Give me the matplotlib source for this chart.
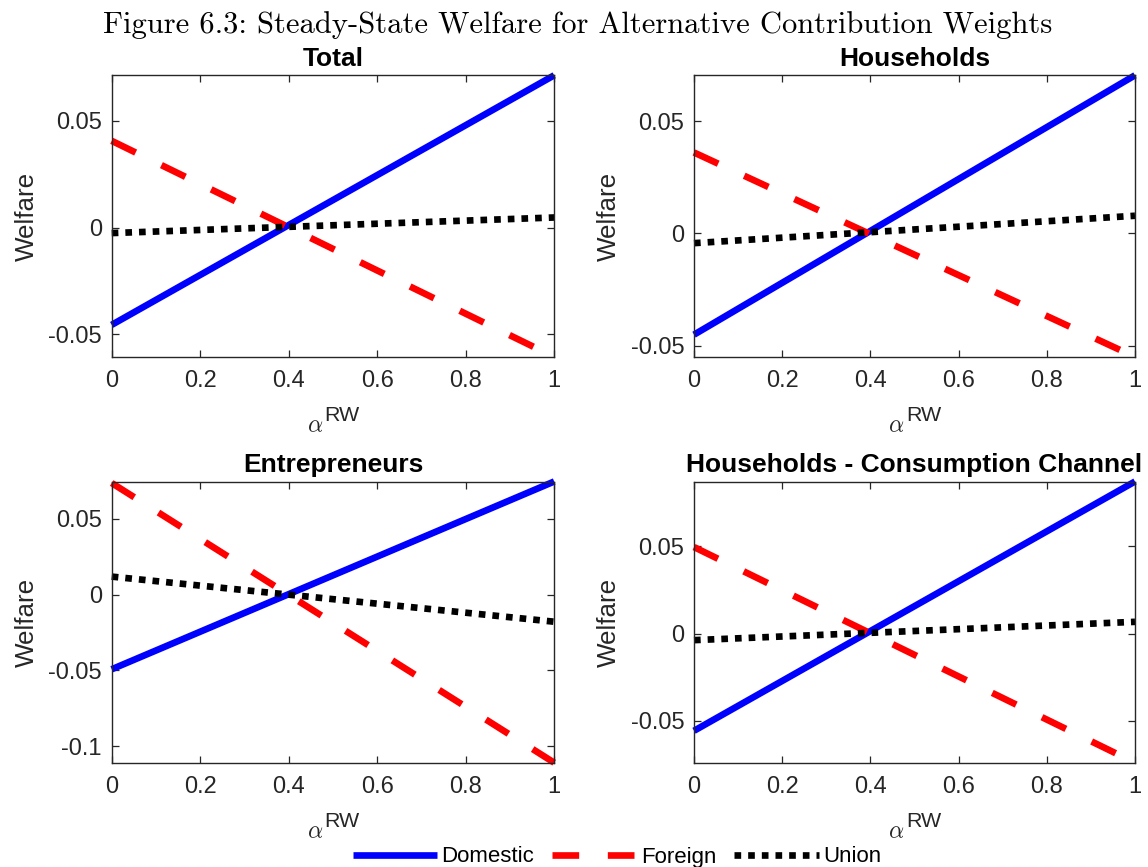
import matplotlib
matplotlib.use("Agg")
import matplotlib.pyplot as plt

plt.rcParams['font.family'] = ['Liberation Sans', 'DejaVu Sans']
plt.rcParams['mathtext.fontset'] = 'cm'

# contribution weight alpha^RW (end points of each welfare line)
alpha = [0.0, 1.0]

panels = ["Total", "Households", "Entrepreneurs", "Households - Consumption Channel"]

domestic = [
    [-0.0456, 0.0713],
    [-0.0451, 0.0705],
    [-0.0493, 0.0747],
    [-0.0558, 0.0872],
]
foreign = [
    [0.0406, -0.0606],
    [0.0361, -0.0550],
    [0.0737, -0.1110],
    [0.0496, -0.0741],
]
union = [
    [-0.0026, 0.0047],
    [-0.0043, 0.0079],
    [0.0119, -0.0179],
    [-0.0038, 0.0067],
]

yticks = [
    [-0.05, 0, 0.05],
    [-0.05, 0, 0.05],
    [-0.1, -0.05, 0, 0.05],
    [-0.05, 0, 0.05],
]
ytick_labels = [
    ["-0.05", "0", "0.05"],
    ["-0.05", "0", "0.05"],
    ["-0.1", "-0.05", "0", "0.05"],
    ["-0.05", "0", "0.05"],
]
xticks = [0, 0.2, 0.4, 0.6, 0.8, 1]
xtick_labels = ["0", "0.2", "0.4", "0.6", "0.8", "1"]

W, H = 1148, 867
fig = plt.figure(figsize=(W / 100, H / 100), dpi=100)

# axes boxes in pixels: left, top, right, bottom
boxes = [
    (111.7, 75.3, 554.2, 356.9),
    (694.0, 75.3, 1135.0, 356.9),
    (111.7, 481.5, 554.2, 762.7),
    (694.0, 481.5, 1135.0, 762.7),
]

axis_col = '#262626'
lw = 4.8
handles = None

# x label placement in axes fraction (alpha right edge, baselines)
xl_x = (323 - 111.7) / 442.5
xl_alpha_y = -(432 - 356.9) / 281.6
xl_sup_y = -(421 - 356.9) / 281.6

for i, name in enumerate(panels):
    l, t, r, b = boxes[i]
    ax = fig.add_axes([l / W, 1 - b / H, (r - l) / W, (b - t) / H])

    h1, = ax.plot(alpha, domestic[i], color='blue', lw=lw, solid_capstyle='butt',
                  clip_on=False, label='Domestic')
    h2, = ax.plot(alpha, foreign[i], color='red', lw=lw, dashes=(4.0, 4.3),
                  dash_capstyle='butt', clip_on=False, label='Foreign')
    h3, = ax.plot(alpha, union[i], color='black', lw=lw, dashes=(1.0, 1.05),
                  dash_capstyle='butt', clip_on=False, label='Union')
    handles = [h1, h2, h3]

    lo = min(min(domestic[i]), min(foreign[i]), min(union[i]))
    hi = max(max(domestic[i]), max(foreign[i]), max(union[i]))
    ax.set_xlim(0, 1)
    ax.set_ylim(lo, hi)

    ax.set_xticks(xticks)
    ax.set_xticklabels(xtick_labels)
    ax.set_yticks(yticks[i])
    ax.set_yticklabels(ytick_labels[i])

    ax.tick_params(direction='in', length=5, width=0.9, colors=axis_col,
                   labelsize=17, top=True, right=True)
    ax.tick_params(axis='x', pad=9.5)
    ax.tick_params(axis='y', pad=7)
    for s in ax.spines.values():
        s.set_color(axis_col)
        s.set_linewidth(1.0)

    ax.set_title(name, fontsize=19, fontweight='bold', pad=7)
    ax.set_ylabel('Welfare', fontsize=18.7, color=axis_col, labelpad=7)

    # x label: alpha with a sans-serif RW superscript
    ax.text(xl_x, xl_alpha_y, r'$\alpha$', transform=ax.transAxes,
            ha='right', va='baseline', fontsize=17, color=axis_col)
    ax.text(xl_x + 0.003, xl_sup_y, 'RW', transform=ax.transAxes,
            ha='left', va='baseline', fontsize=15.4, color=axis_col)

fig.text(0.5035, 1 - 33 / H,
         "Figure 6.3: Steady-State Welfare for Alternative Contribution Weights",
         fontfamily='cmr10', fontsize=22, ha='center', va='baseline')

fig.legend(handles, ['Domestic', 'Foreign', 'Union'], loc='center',
           bbox_to_anchor=(617 / W, 1 - 857 / H), ncol=3, frameon=False,
           fontsize=16, handlelength=3.8, handletextpad=0.2, columnspacing=0.8,
           borderpad=0, borderaxespad=0)

fig.savefig('out.png', dpi=100)
